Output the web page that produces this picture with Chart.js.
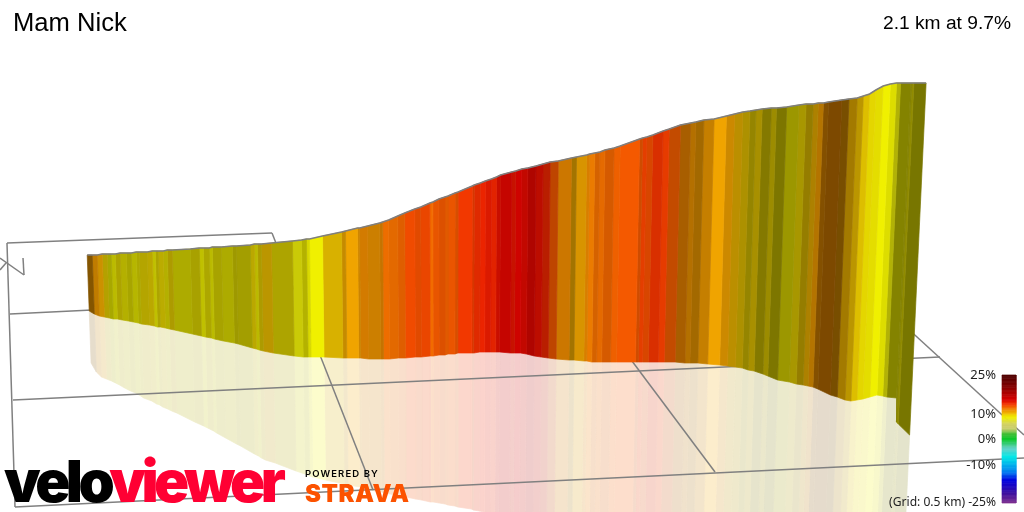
<!DOCTYPE html>
<html>
<head>
<meta charset="utf-8">
<style type="text/css">
  html, body { margin: 0; padding: 0; background: #fff; overflow: hidden; }
  #wrap { position: relative; width: 1024px; height: 512px; overflow: hidden; }
  #myChart { position: absolute; left: 0; top: 0; }
  .t { position: absolute; white-space: nowrap; line-height: 1; color: #000; }
  .sans { font-family: "Liberation Sans", Arial, sans-serif; }
  .scale { font-family: "Noto Sans", sans-serif; font-size: 13px; color: #222; right: 28px; }
</style>
</head>
<body>
<div id="wrap">
  <canvas id="myChart" width="1024" height="512"></canvas>
  <div class="t sans" style="left:13px;top:10px;font-size:25.6px">Mam Nick</div>
  <div class="t sans" style="right:13px;top:13px;font-size:19.2px">2.1 km at 9.7%</div>
  <div class="t scale" style="top:368px">25%</div>
  <div class="t scale" style="top:407px">10%</div>
  <div class="t scale" style="top:432px">0%</div>
  <div class="t scale" style="top:458px">-10%</div>
  <div class="t scale" style="top:496px;font-size:12.1px">(Grid: 0.5 km) -25%</div>
  <div class="t" style="left:4px;top:452px;font-family:Inter,sans-serif;font-weight:900;font-size:58px;letter-spacing:-4.5px"><span style="color:#000">velo</span><span style="color:#ff0033">viewer</span></div>
  <div class="t" style="left:305px;top:469px;font-family:Inter,sans-serif;font-weight:600;font-size:9.5px;letter-spacing:1.1px">POWERED BY</div>
  <div class="t" style="left:305px;top:482px;font-family:Inter,sans-serif;font-weight:900;font-size:24px;letter-spacing:0.5px;color:#fc5200">STRAVA</div>
</div>
<script src="https://cdnjs.cloudflare.com/ajax/libs/Chart.js/4.4.1/chart.umd.js"></script>
<script>
const edgeX = [88,93,98,103,108,112,116,121,127,132,137,140,148,153,156,159,164,168,173,191,200,204,210,213,222,
  233,237,251,255,258,262,272,293,302,307,310,323,342,346,358,360,368,380,383,389,398,405,415,421,430,433,439,445,448,455,458,472,474,480,485,491,496,500,
  511,515,521,527,535,542,549,557,570,575,585,588,593,598,603,612,618,637,640,644,650,660,666,677,687,692,700,710,722,730,738,745,751,757,766,771,781,
  793,800,807,812,817,822,835,842,850,856,862,868,875,882,888,892,902,903,905,917];
const ridgeY = [255,255,255,254,254,254,254,253,253,253,252,252,252,251,251,251,251,250,250,249,248,248,248,247,247,
  246,246,245,244,244,244,243,241,240,239,239,236,232,231,228,228,226,223,222,220,216,213,209,207,203,202,199,197,196,193,192,186,185,183,181,179,177,175,
  172,171,169,168,166,164,162,161,158,157,155,154,153,152,150,148,146,139,138,137,135,131,129,125,123,122,120,119,116,114,112,111,110,109,108,108,107,
  105,104,104,103,103,102,100,99,98,96,94,90,86,84,83,83,83,83,83,83];
const baseY = [311,314,316,317,318,319,319,320,321,322,323,324,325,326,327,327,328,329,330,334,336,337,338,339,341,
  343,344,348,349,350,351,353,356,357,357,357,357,358,358,358,358,359,359,359,359,358,358,357,357,356,356,355,355,354,354,353,353,353,352,352,352,352,352,
  353,353,353,354,356,357,358,359,360,360,361,361,362,362,362,362,362,362,362,362,362,362,362,362,363,363,363,364,365,366,367,368,370,371,374,376,380,
  382,384,385,386,387,389,395,397,400,401,400,399,397,395,396,397,398,422,424,435];
const shadowY = [363,372,377,379,381,383,385,388,391,393,396,398,401,404,405,407,409,411,413,422,426,428,431,433,438,
  444,446,454,456,458,460,463,471,474,476,477,480,484,485,487,488,490,492,493,494,496,497,499,500,502,502,503,504,505,506,507,509,510,511,512,513,514,515,
  517,518,519,520,521,522,523,524,526,527,528,529,530,530,531,532,533,534,535,535,536,537,538,539,540,541,541,542,543,544,544,545,546,546,547,548,548,
  549,549,550,550,551,551,552,552,553,553,554,554,555,555,556,556,556,557,557,560];
/* gradient % and surface brightness of each stripe, one fewer than the edges */
const stripeGrade = [11,11,10.5,9.5,8.5,8.5,9,8.7,8.7,8.5,8.7,9.3,9.5,8.5,9,9.3,8.7,9.5,8.6,8.9,8.5,8.8,8.5,8.8,8.6,
  8.8,8.8,9.5,8.6,9.5,10,9,8.3,8.6,8.5,8.5,9.9,10.5,10.7,11,11.5,11.2,11.5,12.3,12.3,12.5,13.1,13,13.2,12.4,12.8,12.8,12.6,12.8,12.8,13.7,13.5,14,14.3,14.6,14.3,15,15.3,
  14.8,15.4,15.2,15.3,15,14.2,12.8,11.5,10.5,10.7,11.5,12,12.3,12.3,12.5,12.6,12.8,12.8,13.4,13,13.8,13.5,12.7,11.7,11.2,11,11,10.7,10.8,10.2,9.8,9.5,9.7,9.3,9.5,9,8.8,
  9.5,9.8,10.3,11,11.3,11.5,11,10.3,10,9.7,9.1,8.8,8.5,8.5,8.3,8.6,8.7,8.8,8.7];
const stripeLight = [0.55,0.8,0.85,0.75,0.7,0.78,0.72,0.75,0.7,0.76,0.72,0.75,0.78,0.8,0.72,0.78,0.75,0.72,0.72,0.7,0.8,0.72,0.78,0.7,0.72,
  0.66,0.68,0.78,0.78,0.72,0.78,0.72,0.85,0.75,0.9,1,0.9,0.82,1,0.85,0.88,0.85,0.82,0.98,0.94,0.92,0.98,0.92,0.96,1,0.95,0.9,0.92,0.96,0.88,1,0.88,0.93,1,0.95,0.96,0.9,0.9,
  0.88,0.95,0.88,0.8,0.84,0.78,0.78,0.85,0.68,0.9,0.9,0.98,0.88,0.95,0.88,0.98,1,0.85,0.94,0.88,0.9,0.95,0.8,0.7,0.75,0.68,0.82,1,0.85,0.78,0.72,0.62,0.7,0.55,0.65,0.52,0.65,
  0.7,0.62,0.72,0.75,0.55,0.52,0.5,0.68,0.78,0.92,0.95,0.95,1,0.92,0.75,0.55,0.55,0.6,0.5];
/* ground grid and north marker */
const gridX1 = [7,7,10,13,15,272,620,905,0,24,0];
const gridY1 = [243,243,314,400,507,233,345,326,258,275,270];
const gridX2 = [272,15,92,940,1024,373,715,1024,24,23,6];
const gridY2 = [233,507,310,357,458,490,472,435,275,258,263];
/* colour scale */
const scaleGrades = [25,20,15.5,14,13,12,10.5,9.5,8.5,6,4,2,0,-3.5,-7,-13,-16,-21,-25];
const scaleR = [77,140,215,240,245,240,240,240,240,210,200,60,10,100,0,0,0,60,128];
const scaleG = [0,0,0,45,80,125,170,215,240,210,205,190,200,210,232,120,0,16,48];
const scaleB = [0,0,0,0,0,0,0,0,0,100,110,50,40,200,232,240,224,160,144];

function gradeRgb(g) {
  let i = 0;
  while (i < scaleGrades.length - 2 && g < scaleGrades[i + 1]) i++;
  const t = (scaleGrades[i] - g) / (scaleGrades[i] - scaleGrades[i + 1]);
  const mix = (a) => a[i] + (a[i + 1] - a[i]) * t;
  return [mix(scaleR), mix(scaleG), mix(scaleB)];
}
const css = (c) => 'rgb(' + c.map(Math.round).join(',') + ')';
/* the stripes lean towards a vanishing point, edgeX is read at y=277 */
const lean = (x, y) => x + (448 - x) * 0.0001 * (y - 277);

function polygon(points, color, order) {
  return { data: points, showLine: true, fill: 'shape', backgroundColor: color, borderColor: color,
    borderWidth: 0.7, pointRadius: 0, order: order };
}

const datasets = [];
for (let i = 0; i < stripeGrade.length; i++) {
  const j = i + 1;
  const rgb = gradeRgb(stripeGrade[i]).map((v) => v * stripeLight[i]);
  const pale = rgb.map((v) => 255 - (255 - v) * 0.2);
  datasets.push(polygon([
    {x: lean(edgeX[i], ridgeY[i]), y: ridgeY[i]}, {x: lean(edgeX[j], ridgeY[j]), y: ridgeY[j]},
    {x: lean(edgeX[j], baseY[j]), y: baseY[j]}, {x: lean(edgeX[i], baseY[i]), y: baseY[i]},
    {x: lean(edgeX[i], ridgeY[i]), y: ridgeY[i]}], css(rgb), 2));
  datasets.push(polygon([
    {x: lean(edgeX[i], baseY[i]), y: baseY[i]}, {x: lean(edgeX[j], baseY[j]), y: baseY[j]},
    {x: lean(edgeX[j], shadowY[j]), y: shadowY[j]}, {x: lean(edgeX[i], shadowY[i]), y: shadowY[i]},
    {x: lean(edgeX[i], baseY[i]), y: baseY[i]}], css(pale), 4));
}
/* ridge line */
datasets.push({ data: edgeX.map((x, i) => ({x: lean(x, ridgeY[i]), y: ridgeY[i]})), showLine: true,
  borderColor: '#7f7f7f', borderWidth: 1.5, pointRadius: 0, order: 1 });
/* grid */
gridX1.forEach((x, i) => {
  datasets.push({ data: [{x: x, y: gridY1[i]}, {x: gridX2[i], y: gridY2[i]}], showLine: true,
    borderColor: '#808080', borderWidth: 1.5, pointRadius: 0, order: 3 });
});
/* colour bar, on the same grade ramp as the stripes */
for (let g = 25; g > -25; g -= 0.5) {
  const y = (v) => 375 + (25 - v) * 2.56;
  const c = css(gradeRgb(g - 0.25));
  datasets.push(polygon([{x: 1002, y: y(g)}, {x: 1016, y: y(g)}, {x: 1016, y: y(g - 0.5)}, {x: 1002, y: y(g - 0.5)}, {x: 1002, y: y(g)}], c, 0));
}

const myChart = new Chart('myChart', {
  type: 'scatter',
  data: { datasets: datasets },
  options: {
    responsive: false,
    animation: false,
    layout: { padding: 0 },
    plugins: { legend: { display: false }, tooltip: { enabled: false } },
    scales: {
      x: { type: 'linear', min: 0, max: 1024, display: false },
      y: { type: 'linear', min: 0, max: 512, reverse: true, display: false }
    }
  }
});
</script>
</body>
</html>
